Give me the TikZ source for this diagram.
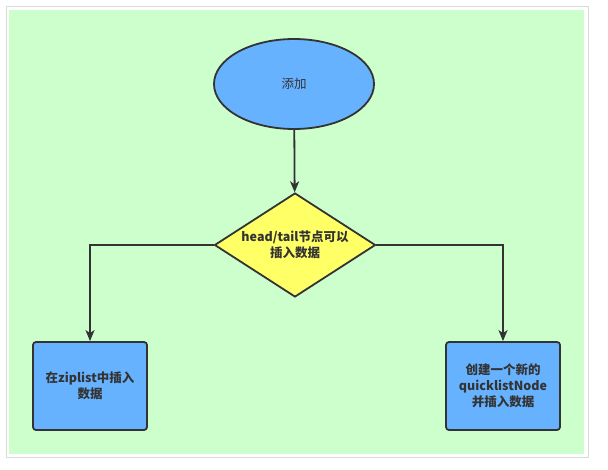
\documentclass[tikz,border=0pt]{standalone}
\usepackage{fontspec}
\setmainfont{Noto Sans CJK SC}
\usetikzlibrary{shapes.geometric,arrows.meta}
\definecolor{bggreen}{HTML}{CCFFCC}
\definecolor{boxblue}{HTML}{66B2FF}
\definecolor{decyellow}{HTML}{FFFF66}
\definecolor{edge}{HTML}{333333}
\tikzset{
  base/.style={draw=edge, line width=1.8pt, text=edge, align=center,
    font=\fontsize{12.5}{16}\selectfont\bfseries},
  startnode/.style={base, ellipse, fill=boxblue, minimum width=160pt, minimum height=90pt,
    font=\fontsize{12.5}{16}\selectfont},
  decision/.style={base, diamond, fill=decyellow, inner sep=0pt, aspect=1.55,
    minimum width=161pt, minimum height=104pt},
  stepbox/.style={base, rectangle, rounded corners=3pt, fill=boxblue,
    minimum width=114pt, minimum height=88pt},
  flow/.style={draw=edge, line width=1.8pt, -{Stealth[length=11pt,width=9pt,inset=3pt]}}
}
\begin{document}
\begin{tikzpicture}[x=1pt, y=-1pt]
  \useasboundingbox (0,0) rectangle (608,469);
  \draw[draw=black!15, line width=1pt] (6,6) rectangle (588,457);
  \fill[bggreen] (9,10) rectangle (584,454);

  \node[startnode] (add) at (294,84) {添加};
  \node[decision] (check) at (295,245) {head/tail节点可以\\插入数据};
  \node[stepbox] (zip) at (90,386) {在ziplist中插入\\数据};
  \node[stepbox] (new) at (503,386) {创建一个新的\\quicklistNode\\并插入数据};

  \draw[flow] (add) -- (check);
  \draw[flow] (check.west) -| (zip.north);
  \draw[flow] (check.east) -| (new.north);
\end{tikzpicture}
\end{document}
